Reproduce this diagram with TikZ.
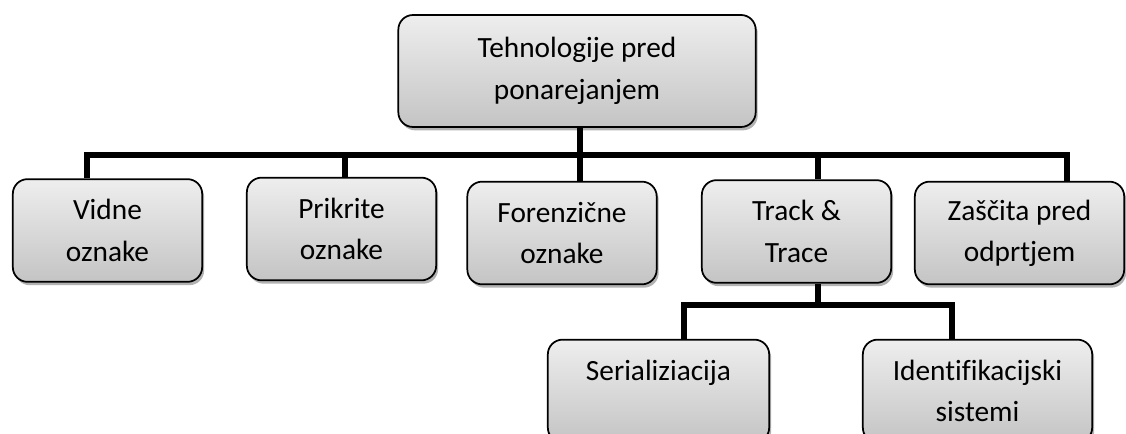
\documentclass[tikz,border=0pt]{standalone}
\usepackage{fontspec}
\setmainfont[Ligatures=NoCommon]{Carlito}
\usepackage{tikz}
\usetikzlibrary{
    shadows,
    calc
}
\definecolor{boxtop}{HTML}{EEEEEE}
\definecolor{boxbot}{HTML}{C4C4C4}

\tikzset{
    box/.style={draw=black, line width=1.3pt, rounded corners=11pt,
        top color=boxtop, bottom color=boxbot, align=center,
        minimum width=142pt, minimum height=77pt, inner sep=2pt,
        font=\fontsize{22}{31}\selectfont,
        drop shadow={shadow xshift=1.5pt, shadow yshift=-2.5pt, opacity=0.3, fill=black}},
    link/.style={draw=black, line width=3.8pt}
}

\begin{document}
\begin{tikzpicture}[x=0.75pt, y=-0.75pt]

% frame (1 unit = 1 px of the target)
\useasboundingbox (0,0) rectangle (1126,434);
\clip (0,0) rectangle (1126,434);

% root
\node[box, minimum width=268pt, minimum height=84pt] (tech) at (577,71) {Tehnologije pred\\ponarejanjem};

% first level
\node[box] (vidne)    at (107.5,230.5) {Vidne\\oznake};
\node[box] (prikrite) at (341.5,229)   {Prikrite\\oznake};
\node[box] (forenz)   at (562,233)     {Forenzične\\oznake};
\node[box] (track)    at (796.5,231.5) {Track \&\\Trace};
\node[box, minimum width=157pt] (zascita) at (1019.5,233) {Zaščita pred\\odprtjem};

% second level (below Track & Trace)
\node[box, minimum width=166pt] (serial) at (658.5,391) {Serializiacija\\\phantom{s}};
\node[box, minimum width=172pt] (ident)  at (977.5,391) {Identifikacijski\\sistemi};

% junctions of the bars
\coordinate (j1) at (87,155);
\coordinate (j2) at (345,155);
\coordinate (j3) at (580,155);
\coordinate (j4) at (818,155);
\coordinate (j5) at (1067,155);
\coordinate (k0) at (818,305);
\coordinate (k1) at (684,305);
\coordinate (k2) at (952,305);

% connectors
\draw[link] (tech.south -| j3) -- (j3) -- (j3 |- forenz.north);
\draw[link] (j1 |- vidne.north) -- (j1) -- (j5) -- (j5 |- zascita.north);
\draw[link] (j2) -- (j2 |- prikrite.north);
\draw[link] (j4) -- (j4 |- track.north);
\draw[link] (track.south -| k0) -- (k0);
\draw[link] (k1 |- serial.north) -- (k1) -- (k2) -- (k2 |- ident.north);

\end{tikzpicture}
\end{document}
